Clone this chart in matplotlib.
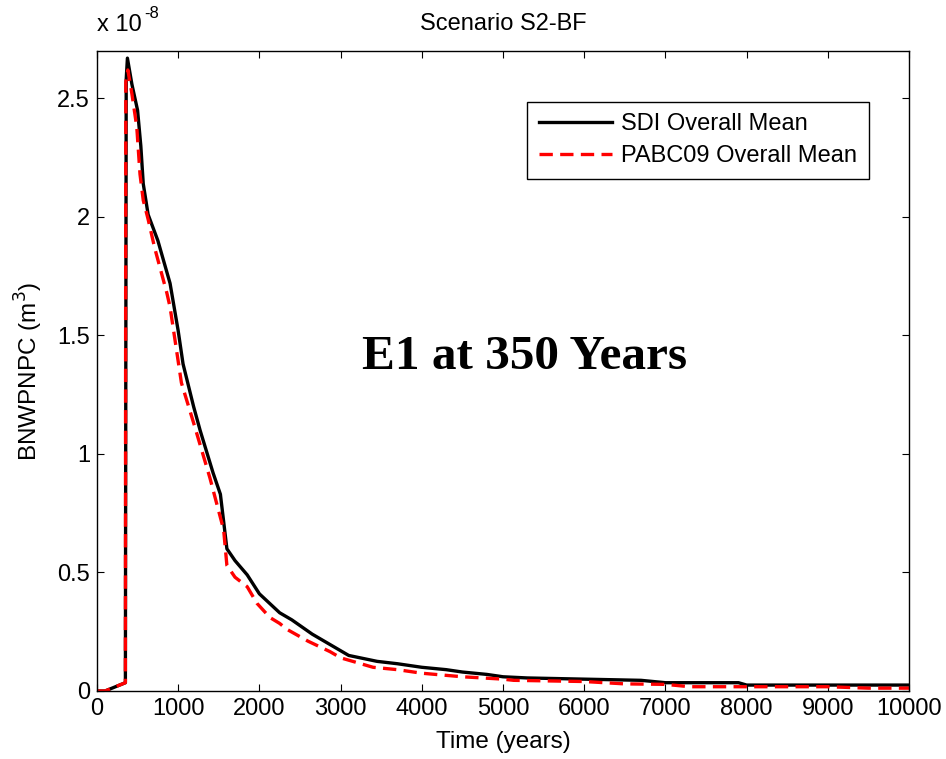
import matplotlib
matplotlib.use('Agg')
import matplotlib.pyplot as plt

# values (y in units of 1e-8 m^3)
t_sdi = [0, 100, 350, 360, 375, 430, 500, 540, 570, 630, 750, 900, 1000, 1060, 1190,
         1270, 1430, 1520, 1600, 1700, 1850, 2000, 2250, 2400, 2650, 2800, 3000, 3100,
         3450, 3700, 4000, 4300, 4500, 4800, 5000, 5300, 6000, 6700, 7000, 7900, 8000,
         9000, 10000]
v_sdi = [0, 0, 0.035, 2.58, 2.67, 2.56, 2.45, 2.30, 2.14, 2.01, 1.90, 1.72, 1.52, 1.38, 1.20,
         1.10, 0.92, 0.83, 0.60, 0.55, 0.49, 0.41, 0.33, 0.30, 0.24, 0.21, 0.17, 0.15,
         0.125, 0.115, 0.10, 0.09, 0.08, 0.07, 0.06, 0.055, 0.05, 0.045, 0.035, 0.035, 0.025,
         0.025, 0.025]

t_pabc = [0, 100, 350, 355, 380, 430, 490, 530, 570, 630, 710, 860, 900, 1040, 1200,
          1390, 1560, 1600, 1700, 1850, 1970, 2130, 2250, 2340, 2600, 2870, 3000, 3400,
          3700, 4000, 4500, 5000, 5130, 6000, 6500, 7000, 7300, 8000, 9000, 9500, 10000]
v_pabc = [0, 0, 0.035, 2.57, 2.62, 2.52, 2.38, 2.18, 2.07, 1.99, 1.87, 1.68, 1.62, 1.30, 1.12,
          0.90, 0.68, 0.53, 0.48, 0.44, 0.37, 0.31, 0.285, 0.26, 0.21, 0.166, 0.14, 0.10,
          0.09, 0.075, 0.06, 0.05, 0.045, 0.04, 0.03, 0.028, 0.018, 0.018, 0.018, 0.012, 0.012]

x_ticks = list(range(0, 10001, 1000))
y_ticks = [0, 0.5, 1, 1.5, 2, 2.5]
y_tick_labels = ['0', '0.5', '1', '1.5', '2', '2.5']

plt.rcParams['font.family'] = ['Liberation Sans', 'DejaVu Sans']
plt.rcParams['font.size'] = 17

fig = plt.figure(figsize=(9.46, 7.59), dpi=100)
ax = fig.add_axes([0.1025, 0.0896, 0.8584, 0.8432])

ax.plot(t_sdi, v_sdi, color='black', lw=2.4, label='SDI Overall Mean')
ax.plot(t_pabc, v_pabc, color='red', lw=2.4, ls=(0, (4, 2.2)), label='PABC09 Overall Mean')

ax.set_xlim(0, 10000)
ax.set_ylim(0, 2.7)
ax.set_xticks(x_ticks)
ax.set_yticks(y_ticks)
ax.set_yticklabels(y_tick_labels)
ax.tick_params(direction='in', top=True, right=True, length=5, width=0.8, labelsize=17, pad=5)
for s in ax.spines.values():
    s.set_linewidth(1.0)

ax.set_xlabel('Time (years)', fontsize=17.5, labelpad=8)
ax.set_ylabel('BNWPNPC (m$^3$)', fontsize=17.5, labelpad=9)
ax.set_title('Scenario S2-BF', fontsize=17, pad=15)

fig.text(0.1025, 0.952, 'x 10', fontsize=17, ha='left', va='bottom')
fig.text(0.153, 0.972, '-8', fontsize=12, ha='left', va='bottom')

ax.text(0.527, 0.522, 'E1 at 350 Years', transform=ax.transAxes, ha='center', va='center',
        fontsize=35.5, fontweight='bold', family='Liberation Serif')

leg = ax.legend(loc='upper right', bbox_to_anchor=(0.951, 0.921), borderaxespad=0,
                fontsize=17, handlelength=3.1, handletextpad=0.4, fancybox=False,
                borderpad=0.5, labelspacing=0.42, framealpha=1)
leg.get_frame().set_edgecolor('black')
leg.get_frame().set_linewidth(1.0)

fig.savefig('out.png', dpi=100)
